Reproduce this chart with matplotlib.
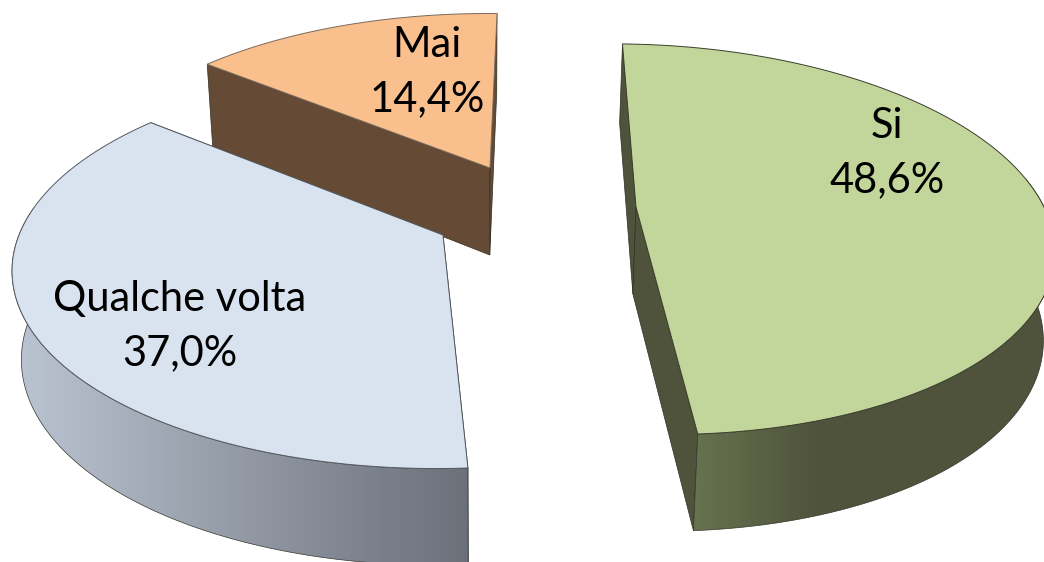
import matplotlib
matplotlib.use("Agg")
import matplotlib.pyplot as plt
from matplotlib.patches import Polygon
from matplotlib.colors import to_rgb
import numpy as np

categories = ["Si", "Qualche volta", "Mai"]
values = [48.6, 37.0, 14.4]

top_colors = ["#c2d69b", "#d9e3f0", "#f9bf8d"]
edge_colors = ["#3a3d2c", "#555a60", "#7a6a5c"]
label_pos = [(887, 153), (180, 326), (427, 72)]
centers = [(636, 207), (443, 235), (490, 168)]
radius_x = [408, 424, 404]
radius_y = [190, 195, 180]
wall_stops = [
    [(692, "#67734f"), (815, "#4f533c"), (1100, "#4f533c")],
    [(20, "#bac3d1"), (468, "#6b7079")],
    [(200, "#654b36"), (500, "#654b36")],
]
side_colors = ["#4f533c", "#6b7079", "#654b36"]

K = 0.165
X0 = 480
START = 1.4


def project(i, t, r=1.0, bottom=False):
    cx, cy = centers[i]
    t = np.radians(t)
    u = np.sin(t) * r
    v = -np.cos(t) * r
    x = X0 + (cx + radius_x[i] * u - X0) / (1 - K * v)
    y = cy + radius_y[i] * v / (1 - K * v)
    if bottom:
        x = X0 + (x - X0) * 0.98
        y = y + 87 / (1 - 0.1 * v)
    return x, y


def gradient_wall(ax, pts, stops):
    xs = [s[0] for s in stops]
    cols = np.array([to_rgb(s[1]) for s in stops])
    grid = np.arange(0, 1100)
    row = np.stack([np.interp(grid, xs, cols[:, i]) for i in range(3)], axis=1)
    img = ax.imshow(row[None, :, :], extent=(0, 1100, 600, 0), aspect="auto", zorder=ax.zo)
    patch = Polygon(pts, closed=True, facecolor="none", edgecolor="#33352b", lw=0.5, zorder=ax.zo + 0.1)
    ax.add_patch(patch)
    img.set_clip_path(patch)
    ax.zo += 1


def draw_slice(ax, i, t0, t1):
    ts = np.linspace(t0, t1, 200)
    tx, ty = project(i, ts)
    bx, by = project(i, ts, bottom=True)
    ctx, cty = project(i, 0, r=0)
    cbx, cby = project(i, 0, r=0, bottom=True)

    # cut faces first, then outer wall, then the top
    for j in (0, -1):
        pts = [(ctx, cty), (tx[j], ty[j]), (bx[j], by[j]), (cbx, cby)]
        ax.add_patch(Polygon(pts, closed=True, facecolor=side_colors[i], edgecolor="#2e2f24",
                             lw=0.5, zorder=ax.zo))
        ax.zo += 1
    # only the part of the rim that faces the viewer
    front = -np.cos(np.radians(ts)) > -0.15
    if front.sum() > 1:
        wall = list(zip(tx[front], ty[front])) + list(zip(bx[front][::-1], by[front][::-1]))
        gradient_wall(ax, wall, wall_stops[i])
    top = [(ctx, cty)] + list(zip(tx, ty))
    ax.add_patch(Polygon(top, closed=True, facecolor=top_colors[i], edgecolor=edge_colors[i],
                         lw=0.7, zorder=ax.zo))
    ax.zo += 1


fig = plt.figure(figsize=(10.44, 5.62), dpi=100)
ax = fig.add_axes([0, 0, 1, 1])
ax.zo = 1

angles = START + np.cumsum([0] + values) * 3.6
for i in (2, 1, 0):
    draw_slice(ax, i, angles[i], angles[i + 1])

for i, name in enumerate(categories):
    txt = f"{name}\n{values[i]:.1f}%".replace(".", ",")
    ax.text(label_pos[i][0], label_pos[i][1], txt, ha="center", va="center", fontsize=30,
            family="Lato", color="black", linespacing=1.5, zorder=100)

ax.set_xlim(0, 1044)
ax.set_ylim(562, 0)
ax.axis("off")
fig.savefig("out.png", dpi=100)
